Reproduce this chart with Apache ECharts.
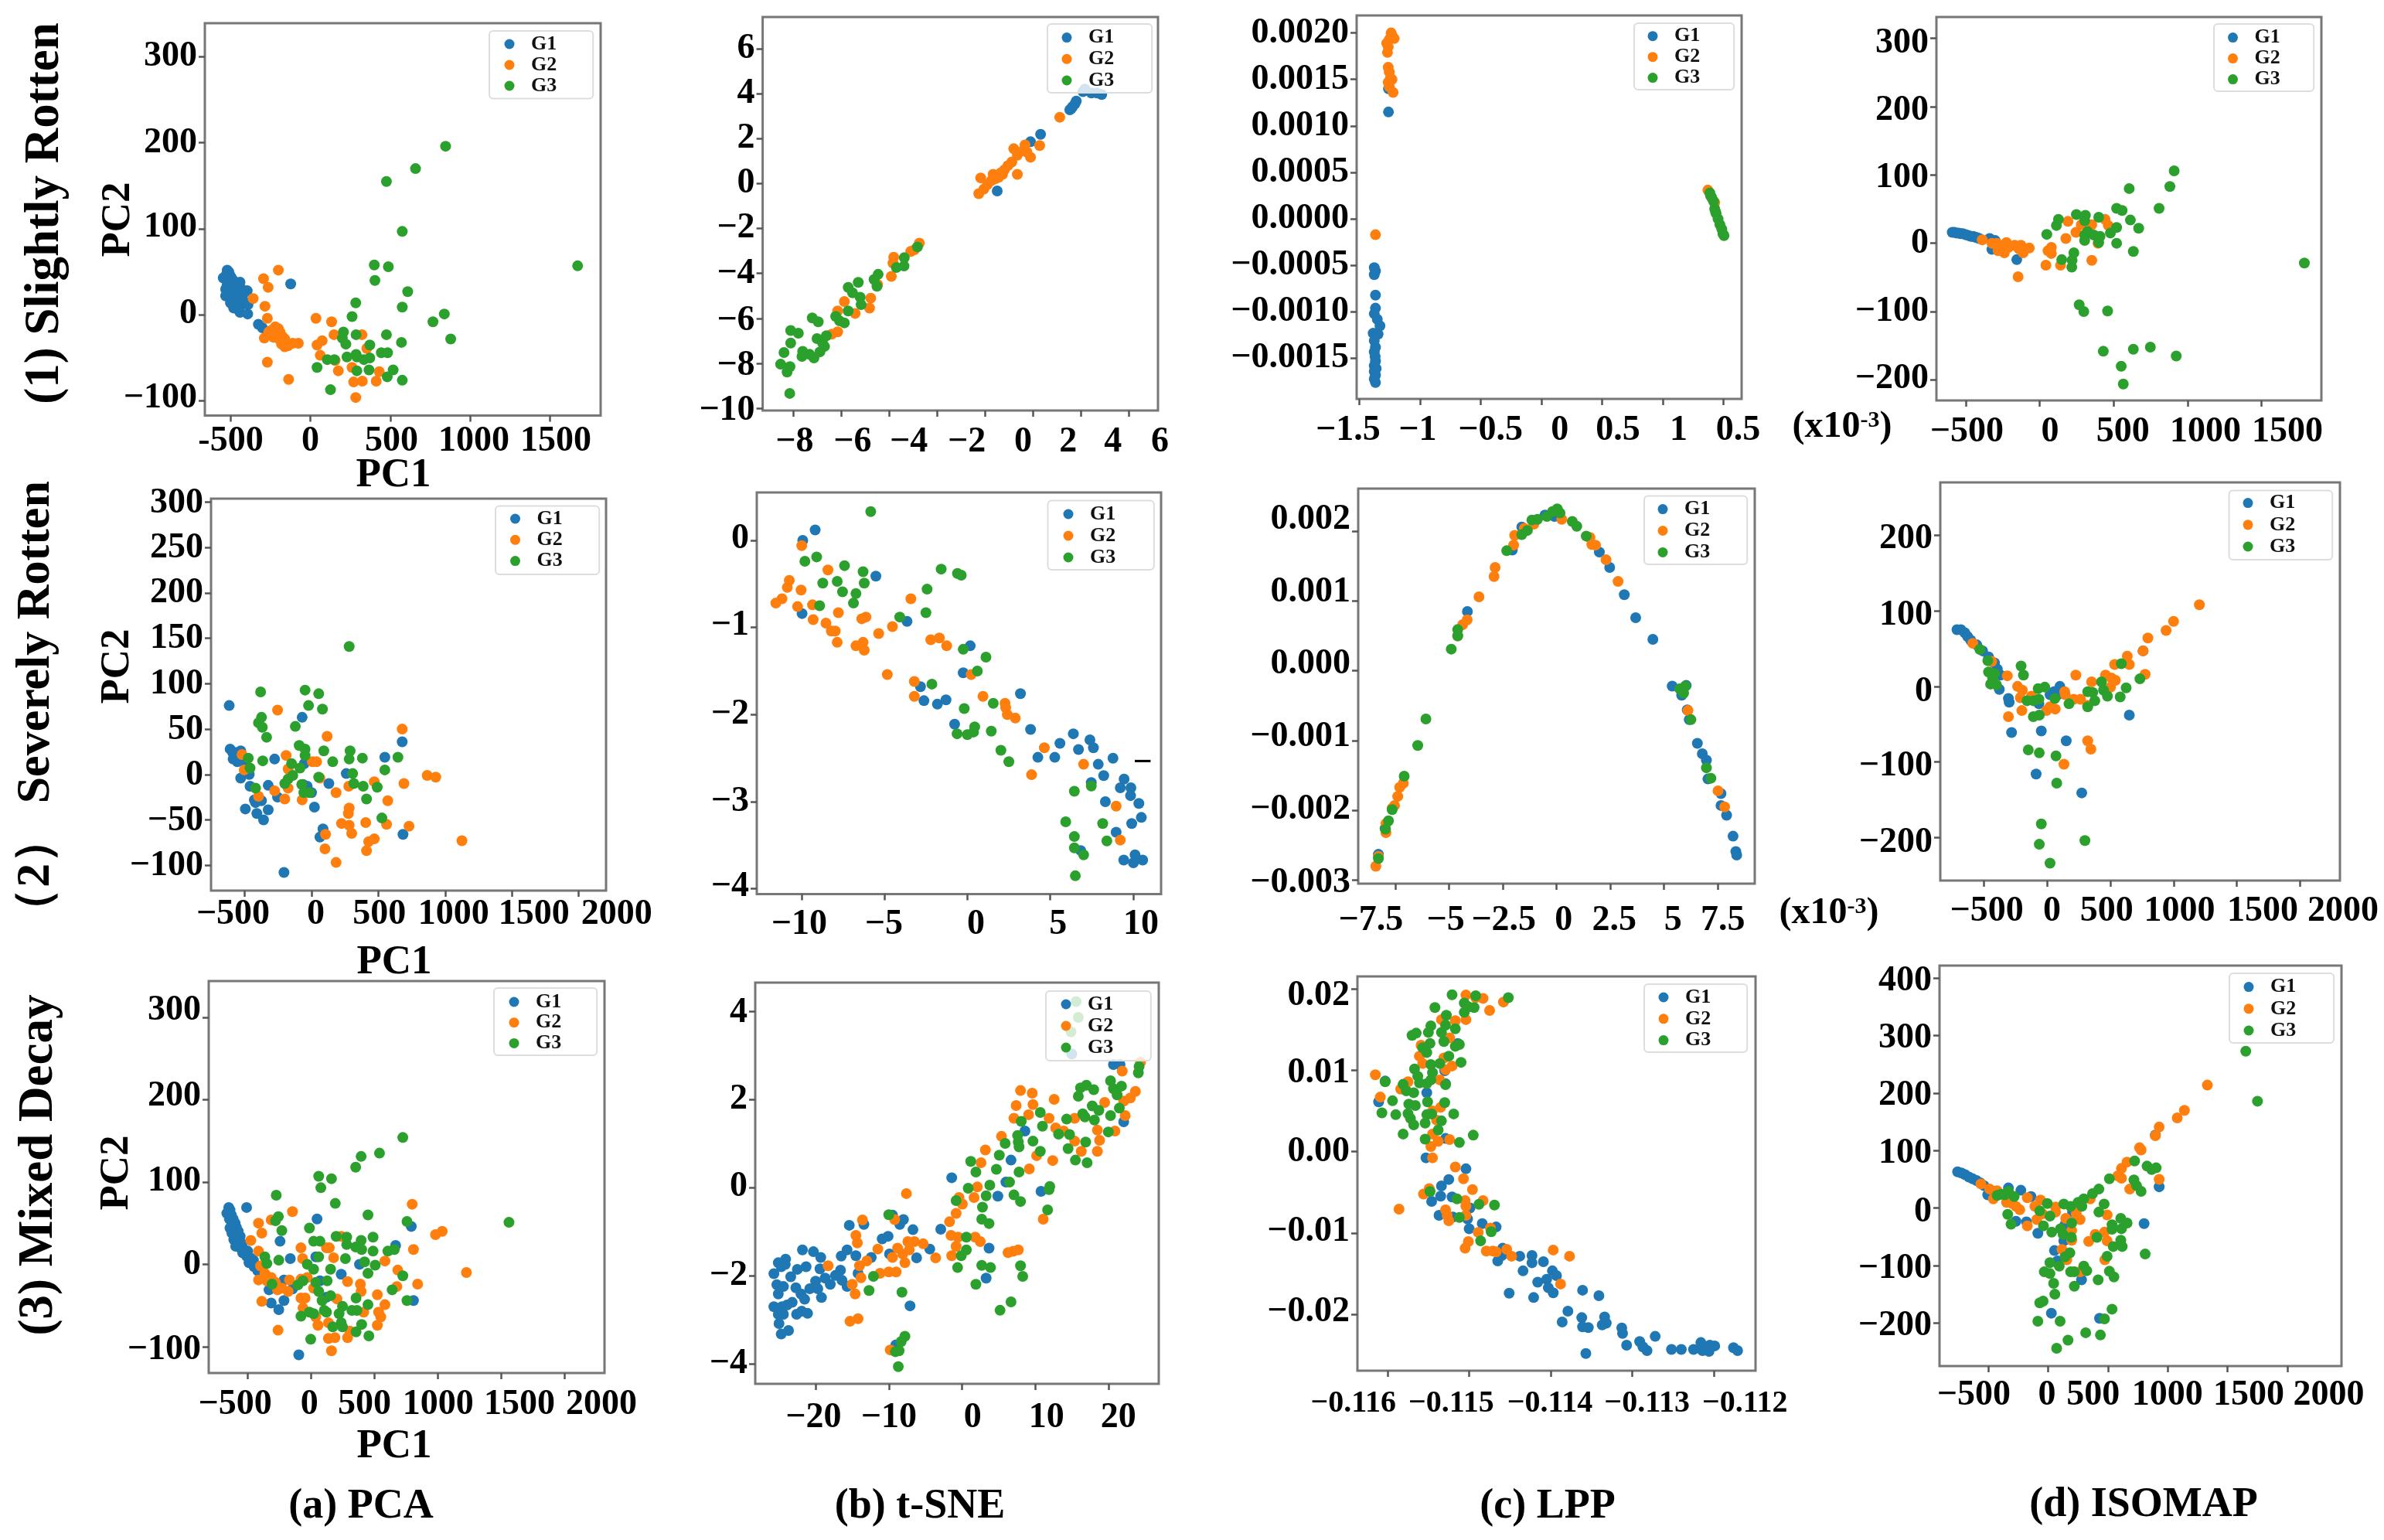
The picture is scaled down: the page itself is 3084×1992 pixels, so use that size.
<!DOCTYPE html>
<html><head><meta charset="utf-8">
<style>html,body{margin:0;padding:0;background:#fff}#c{width:3084px;height:1992px}</style>
<script src="https://cdn.jsdelivr.net/npm/echarts@6/dist/echarts.min.js"></script>
</head><body><div id="c"></div>
<script>
// ---------- DATA: Row 1 (Slightly Rotten) ----------
const a1G1=[[-520,52],[-510,50],[-525,47],[-500,45],[-545,43],[-490,42],[-510,40],[-470,38],[-440,38],[-520,35],[-480,33],[-450,32],[-530,30],[-500,30],[-470,28],[-430,30],[-395,28],[-420,24],[-530,22],[-490,22],[-460,20],[-435,18],[-410,15],[-500,14],[-470,12],[-440,10],[-390,12],[-480,8],[-450,6],[-440,3],[-392,1],[-325,-11],[-300,-15],[-123,36]];
const a1G2=[[-200,52],[-293,42],[-264,32],[-358,19],[-284,10],[-269,-4],[-288,-27],[-269,-55],[-136,-75],[-260,-20],[-245,-18],[-220,-14],[-200,-16],[-215,-22],[-190,-20],[-175,-25],[-230,-26],[-195,-28],[-160,-28],[-180,-34],[-150,-33],[-140,-36],[-110,-33],[-160,-37],[-75,-33],[35,-4],[133,-8],[148,-23],[42,-35],[74,-30],[62,-47],[155,-53],[175,-65],[261,-61],[271,-78],[325,-77],[284,-96],[412,-77],[431,-66],[353,-39],[323,-23]];
const a1G3=[[846,196],[658,170],[476,155],[575,97],[1672,57],[400,58],[488,56],[404,40],[609,27],[284,14],[575,9],[261,-2],[838,1],[767,-8],[878,-28],[207,-20],[286,-23],[476,-23],[200,-27],[222,-34],[372,-35],[570,-32],[229,-49],[286,-46],[291,-49],[444,-44],[483,-44],[372,-50],[335,-52],[106,-52],[150,-52],[42,-61],[291,-65],[367,-64],[518,-64],[481,-72],[575,-76],[126,-87]];
const b1G1=[[0.5,-0.33],[1.89,1.86],[2.31,2.19],[3.53,3.28],[3.64,3.41],[3.74,3.54],[3.8,3.67],[3.59,3.33],[4.08,4.09],[4.43,4.03],[4.86,3.96],[4.66,4.03],[4.16,4.2]];
const b1G2=[[-0.27,-0.45],[-0.19,0.25],[-0.06,-0.25],[0.09,-0.05],[0.25,0.12],[0.33,0.41],[0.41,0.21],[0.56,0.28],[0.72,0.41],[0.8,0.61],[0.95,0.8],[1.11,0.96],[1.34,0.41],[1.19,1.55],[1.34,1.26],[1.58,1.46],[1.66,1.72],[1.74,1.4],[1.89,1.17],[2.27,1.69],[3.11,2.95],[0.48,0.34],[0.64,0.47],[-2.75,-2.65],[-3.11,-3.02],[-2.96,-2.95],[-3.82,-3.28],[-3.85,-3.54],[-3.92,-4.13],[-4.49,-4.49],[-4.78,-5.1],[-4.83,-5.54],[-5.43,-5.78],[-5.88,-5.25],[-6.16,-5.67],[-6.16,-6.6],[-6.4,-6.7]];
const b1G3=[[-2.83,-2.82],[-3.38,-3.3],[-3.39,-3.67],[-3.71,-3.74],[-4.47,-4.04],[-4.64,-4.27],[-4.52,-4.57],[-5.3,-4.4],[-5.72,-4.62],[-5.54,-4.86],[-5.22,-5.06],[-5.18,-5.39],[-5.72,-5.67],[-6.24,-5.91],[-6.08,-6.11],[-5.88,-6.2],[-7.22,-5.98],[-6.97,-6.15],[-8.12,-6.54],[-7.8,-6.66],[-6.63,-6.77],[-7.02,-6.9],[-6.79,-7.1],[-6.71,-7.25],[-8.12,-7.1],[-8.4,-7.52],[-7.62,-7.47],[-7.65,-7.69],[-7.33,-7.6],[-7.15,-7.76],[-6.9,-7.49],[-8.54,-8.04],[-8.15,-8.15],[-8.27,-8.39],[-8.16,-9.34]];
const c1G1=[[-1.26,0.0014],[-1.26,0.00115],[-1.377,-0.000525],[-1.367,-0.00056],[-1.377,-0.0006],[-1.367,-0.00082],[-1.367,-0.00096],[-1.377,-0.00102],[-1.352,-0.00108],[-1.33,-0.00115],[-1.386,-0.00123],[-1.346,-0.00124],[-1.377,-0.00131],[-1.367,-0.00138],[-1.377,-0.00143],[-1.37,-0.00148],[-1.367,-0.00153],[-1.377,-0.00158],[-1.361,-0.00161],[-1.377,-0.00164],[-1.367,-0.00168],[-1.377,-0.00172],[-1.367,-0.00176]];
const c1G2=[[-1.367,-0.00017],[-1.238,0.002],[-1.213,0.00194],[-1.253,0.00193],[-1.275,0.00189],[-1.262,0.00185],[-1.268,0.00179],[-1.231,0.00197],[-1.262,0.00163],[-1.253,0.00158],[-1.244,0.00151],[-1.231,0.0015],[-1.262,0.00147],[-1.253,0.00142],[-1.222,0.00136],[1.37,0.00031],[1.426,0.000175]];
const c1G3=[[1.386,0.00028],[1.392,0.00025],[1.401,0.00023],[1.417,0.00019],[1.426,0.00011],[1.432,0.00008],[1.438,0.00006],[1.454,0],[1.469,-0.00006],[1.485,-0.00011],[1.494,-0.00016],[1.503,-0.00018]];
const d1G1=[[-591,16],[-577,16],[-563,15],[-548,15],[-534,14],[-520,14],[-506,13],[-492,12],[-478,11],[-464,10],[-450,10],[-436,9],[-422,8],[-408,7],[-338,7],[-301,4],[-323,-9],[-155,-24]];
const d1G2=[[-388,5],[-323,0],[-290,0],[-225,1],[-253,-6],[-281,-6],[-239,-14],[-169,-3],[-141,-8],[-112,-14],[-70,-7],[-127,-3],[-211,-6],[-281,-11],[-146,-49],[42,-32],[141,-32],[56,-11],[79,-6],[79,-15],[352,-25],[177,7],[191,32],[245,16],[281,27],[352,27],[442,35],[464,26],[394,0]];
const d1G3=[[909,106],[880,83],[605,80],[807,51],[520,51],[557,48],[613,34],[669,22],[520,23],[399,38],[248,42],[309,41],[304,33],[127,35],[113,26],[48,13],[324,17],[366,12],[408,10],[304,12],[304,4],[399,1],[478,15],[520,0],[633,-12],[231,-14],[219,-25],[149,-24],[217,-35],[1789,-29],[267,-90],[298,-100],[459,-99],[430,-158],[633,-155],[748,-152],[923,-165],[551,-180],[565,-206]];
// ---------- DATA: Row 2 (Severely Rotten) ----------
const a2G1=[[-616,76],[-609,28],[-590,24],[-575,20],[-555,14],[-530,26],[-508,14],[-587,17],[-568,24],[-540,15],[-466,0],[-530,-4],[-460,-13],[-324,-12],[-276,17],[-428,-28],[-374,-29],[-419,-31],[-495,-38],[-409,-43],[-324,-39],[-359,-50],[-254,-25],[-206,-108],[-70,63],[-54,12],[-63,-11],[-32,-13],[0,-20],[22,-36],[86,-60],[63,-69],[130,-10],[260,1],[549,19],[679,36],[685,-66]];
const a2G2=[[-254,71],[117,42],[679,50],[-520,22],[-504,5],[-190,21],[-175,6],[6,14],[38,14],[63,-4],[-175,-15],[-276,-18],[-397,-24],[-200,-27],[-70,-28],[184,-20],[279,-13],[470,-8],[692,-10],[866,-1],[930,-3],[571,-29],[282,-37],[276,-43],[225,-54],[282,-56],[301,-65],[406,-53],[562,-55],[730,-57],[105,-66],[101,-82],[184,-97],[412,-84],[428,-74],[470,-71],[1126,-73]];
const a2G3=[[282,141],[-381,91],[-48,93],[54,89],[-22,76],[82,72],[-374,63],[-397,57],[-368,52],[-121,53],[-336,41],[-92,32],[-48,28],[-48,21],[92,26],[289,26],[282,17],[381,18],[159,14],[647,19],[549,5],[-473,18],[-460,7],[-365,15],[-149,12],[-86,7],[-140,-1],[-175,-5],[-200,-10],[54,-3],[308,1],[317,-10],[387,-13],[492,-14],[412,-27],[-73,-11],[-57,-20],[-16,-20],[-419,-15],[527,-48]];
const b2G1=[[-9.93,0],[-9.18,0.12],[-5.52,-0.41],[-9.97,-0.84],[-3.64,-0.93],[0.17,-1.21],[-0.25,-1.52],[-2.83,-1.68],[-2.62,-1.84],[-1.81,-1.88],[-1.29,-1.83],[3.2,-1.76],[-0.77,-2.11],[3.81,-2.17],[6.39,-2.22],[5.58,-2.33],[7.39,-2.29],[7.6,-2.38],[6.7,-2.4],[4.25,-2.49],[5.27,-2.49],[8.78,-2.5],[7.89,-2.57],[8.22,-2.7],[7.47,-2.78],[9.45,-2.74],[9.22,-2.84],[9.86,-2.84],[9.84,-2.93],[8.32,-3],[10.34,-3.02],[10.49,-3.18],[9.91,-3.25],[8.97,-3.35],[6.83,-3.56],[9.43,-3.67],[10.11,-3.61],[10.01,-3.7],[10.57,-3.67]];
const b2G2=[[-9.99,-0.06],[-8.41,-0.34],[-10.74,-0.46],[-10.86,-0.54],[-10.03,-0.57],[-11.18,-0.67],[-11.55,-0.72],[-10.24,-0.76],[-9.34,-0.74],[-9.3,-0.91],[-8.53,-0.95],[-7.78,-0.83],[-8.2,-1.04],[-7.97,-1.04],[-7.85,-1.17],[-6.72,-1.21],[-6.29,-1.17],[-6.22,-1.26],[-6.37,-0.9],[-6.12,-0.88],[-5.35,-1.07],[-4.52,-0.99],[-3.41,-0.67],[-2.21,-1.14],[-1.69,-1.12],[-1.25,-1.21],[-4.83,-1.54],[-3.2,-1.62],[-3.2,-1.79],[0.23,-1.54],[0.94,-1.79],[2.27,-1.87],[2.31,-1.92],[2.41,-2],[2.89,-2.04],[4.64,-2.38],[7.01,-2.57],[3.87,-2.69],[8.97,-3.05],[9.22,-3.44]];
const b2G3=[[-5.83,0.33],[-9.09,-0.19],[-9.8,-0.24],[-7.41,-0.29],[-6.29,-0.36],[-8.72,-0.49],[-7.85,-0.47],[-6.22,-0.49],[-7.53,-0.59],[-6.72,-0.61],[-6.87,-0.72],[-8.91,-0.75],[-1.58,-0.33],[-0.6,-0.38],[-0.37,-0.4],[-2.43,-0.56],[-2.5,-0.83],[-4.08,-0.88],[-0.25,-1.25],[1.12,-1.34],[0.6,-1.5],[-2.14,-1.65],[1.56,-1.87],[-0.19,-1.93],[0.44,-2.14],[1.44,-2.19],[-0.62,-2.22],[0,-2.23],[0.37,-2.2],[2.02,-2.41],[2.5,-2.54],[6.45,-2.88],[7.47,-2.82],[5.93,-3.23],[8.16,-3.25],[6.45,-3.4],[8.41,-3.45],[6.45,-3.53],[7.01,-3.61],[6.51,-3.85]];
const c2G1=[[-8.29,-0.00263],[-7.98,-0.00226],[-4.15,0.00085],[-2.06,0.00173],[-1.62,0.00206],[-0.54,0.00223],[-0.1,0.00221],[1.99,0.0017],[2.47,0.00148],[3.15,0.00109],[3.68,0.00076],[4.48,0.00045],[5.38,-0.00022],[5.82,-0.00035],[6.03,-0.00021],[6.08,-0.00056],[6.17,-0.0007],[6.55,-0.00104],[6.78,-0.00119],[6.97,-0.00128],[7.04,-0.00155],[7.65,-0.00176],[7.65,-0.00193],[7.91,-0.00207],[8.21,-0.00237],[8.34,-0.00259],[8.38,-0.00264]];
const c2G2=[[-8.41,-0.0028],[-8.29,-0.00266],[-7.94,-0.00232],[-7.94,-0.00219],[-7.54,-0.00193],[-7.65,-0.00197],[-7.39,-0.0018],[-7.3,-0.00167],[-7.13,-0.00161],[-4.6,0.0005],[-4.37,0.00066],[-4.16,0.00073],[-3.61,0.00106],[-2.91,0.00135],[-2.86,0.00148],[-2,0.0018],[-1.95,0.00194],[-1.5,0.00204],[-1.06,0.0021],[0.24,0.00217],[1.55,0.00191],[1.64,0.00181],[1.81,0.0018],[2.3,0.00159],[2.86,0.00128],[6.11,-0.00057],[7.51,-0.00172],[7.82,-0.00195]];
const c2G3=[[-8.29,-0.00269],[-7.96,-0.00227],[-7.82,-0.00215],[-7.65,-0.00199],[-7.09,-0.00151],[-6.46,-0.00107],[-6.08,-0.00069],[-4.9,0.00031],[-4.6,0.0005],[-4.6,0.00059],[-2.32,0.00172],[-1.62,0.00195],[-1.36,0.00201],[-1.15,0.00216],[-0.89,0.00217],[-0.45,0.00221],[-0.19,0.00228],[0.03,0.00232],[0.16,0.00226],[0.73,0.00214],[0.94,0.00207],[1.38,0.00193],[5.73,-0.00026],[5.99,-0.00022],[5.91,-0.00032],[6.25,-0.0007],[6.97,-0.00139],[7.18,-0.00154]];
const d2G1=[[-714,75],[-683,75],[-652,71],[-630,66],[-605,61],[-558,55],[-511,47],[-464,39],[-417,31],[-395,23],[-370,15],[-379,-4],[-307,-16],[-301,-21],[-282,-61],[-47,-59],[-66,-23],[22,-11],[53,-7],[100,0],[85,-11],[150,-72],[-88,-116],[273,-141],[649,-38],[758,47]];
const d2G2=[[-589,57],[-439,33],[-316,14],[-235,0],[-197,-5],[-213,-15],[-201,-32],[-307,-40],[-125,-13],[-6,-32],[22,-27],[63,-30],[138,-7],[142,-11],[226,15],[210,-17],[263,-17],[351,6],[461,15],[508,11],[539,8],[501,-1],[533,29],[633,40],[649,29],[758,47],[774,16],[796,64],[940,74],[999,86],[1203,108],[320,-72],[345,-83],[132,-103],[320,-25]];
const d2G3=[[-533,49],[-470,34],[-464,19],[-417,17],[-448,3],[-401,2],[-432,11],[-207,27],[-188,15],[-160,-19],[-110,-19],[-66,-17],[-72,-3],[-19,-1],[60,-16],[172,-23],[-110,-40],[-63,-38],[320,-7],[376,-19],[360,-8],[320,-27],[429,6],[445,-5],[476,-13],[586,30],[624,-2],[577,-14],[733,10],[-150,-84],[-63,-88],[69,-92],[75,-128],[-47,-182],[-63,-209],[298,-204],[22,-234]];
// ---------- DATA: Row 3 (Mixed Decay) ----------
const a3G1=[[-650,69],[-640,66],[-665,62],[-630,60],[-615,55],[-645,55],[-600,50],[-625,48],[-590,45],[-640,44],[-610,42],[-575,40],[-625,38],[-595,35],[-560,34],[-610,30],[-580,28],[-545,25],[-595,22],[-560,20],[-530,18],[-500,16],[-540,14],[-510,10],[-480,8],[-455,5],[-490,2],[-450,-3],[-420,-8],[-400,-15],[-509,69],[47,55],[-245,28],[-164,7],[37,9],[382,0],[667,23],[791,46],[808,-44],[238,-12],[-97,-110],[-214,-19],[-147,-30],[-214,-44],[-255,-55],[-315,-47],[-332,-31],[70,-20],[121,-40]];
const a3G2=[[-147,64],[-315,54],[-415,50],[-389,38],[-476,29],[798,73],[1035,40],[982,36],[1226,-10],[808,18],[-80,20],[-67,7],[121,20],[144,20],[178,8],[238,34],[583,4],[684,-7],[841,-24],[677,-27],[-415,-19],[-365,-11],[-315,-16],[-399,-2],[-415,16],[-349,-20],[-281,-22],[-231,-29],[-181,-33],[-265,-31],[-171,-19],[-389,-45],[-261,-80],[-80,-18],[-30,-16],[20,-29],[-80,-41],[-47,-41],[-64,-53],[54,-74],[37,-64],[288,-21],[389,-24],[395,-33],[523,-37],[204,-42],[583,-49],[533,-58],[550,-64],[523,-74],[415,-58],[137,-90],[188,-89],[288,-89],[305,-81],[161,-105],[137,-71]];
const a3G3=[[724,154],[540,135],[395,131],[352,118],[60,107],[161,104],[77,93],[191,74],[449,60],[757,52],[1562,51],[-275,84],[-258,58],[-281,53],[-231,41],[-13,44],[20,28],[70,28],[198,34],[281,33],[281,24],[489,33],[395,29],[352,21],[399,18],[489,16],[606,16],[657,18],[271,7],[60,9],[-365,9],[-349,1],[-255,5],[-30,0],[20,-6],[154,-6],[422,3],[506,-1],[449,-11],[724,-14],[640,-31],[757,-44],[-308,-24],[-64,-20],[-104,-25],[37,-22],[127,-20],[60,-33],[154,-38],[87,-44],[104,-56],[355,-41],[449,-49],[248,-51],[322,-56],[362,-56],[-13,-58],[-80,-63],[20,-60],[121,-58],[221,-60],[171,-76],[238,-71],[248,-76],[399,-73],[355,-82],[456,-87],[-3,-91]];
const b3G1=[[-25.7,-1.96],[-25.1,-1.71],[-24.1,-1.63],[-24.7,-1.8],[-24.15,-1.75],[-22.5,-1.86],[-23.4,-2.03],[-21.8,-1.42],[-20.3,-1.46],[-19.3,-1.59],[-21.3,-1.8],[-19.4,-1.85],[-25.3,-2.21],[-24.4,-2.25],[-25.1,-2.42],[-22.7,-2.28],[-22,-2.42],[-21.5,-2.54],[-20.8,-2.3],[-20,-2.13],[-19.7,-2.3],[-19.2,-2.5],[-18.7,-2.06],[-18,-2.2],[-17.3,-2],[-16.6,-1.88],[-16.4,-2.11],[-15.7,-2.25],[-16.5,-1.56],[-15.7,-1.42],[-14.5,-1.55],[-15.4,-0.86],[-13.4,-0.84],[-14.2,-1.95],[-12.4,-1.59],[-10.9,-1.17],[-10.1,-1.11],[-9.9,-1.51],[-9.5,-0.63],[-8,-0.73],[-8.5,-0.84],[-6.7,-0.96],[-6.2,-1.6],[-4.4,-1.4],[-2.9,-0.95],[-1.4,0.22],[8.6,1.28],[6.7,0.62],[6,0.12],[4.9,-0.2],[10.8,-0.09],[3.7,-1.38],[3.3,-2.06],[-7.1,-2.69],[22.1,1.49],[20.7,2.79],[21.6,2.79],[15,3.03],[-25.7,-2.71],[-24.6,-2.71],[-23.9,-2.67],[-23.2,-2.61],[-25.1,-2.88],[-24.4,-2.88],[-25,-3.09],[-22.6,-2.88],[-21.9,-2.81],[-21.1,-2.86],[-24.7,-3.33],[-23.7,-3.25],[-9.06,-3.58]];
const b3G2=[[-18.3,-1.78],[-15,-2.2],[-14.6,-2.42],[-15.3,-3.04],[-14.2,-2.98],[-13.6,-0.74],[-14.5,-1.09],[-14.3,-1.26],[-14,-1.78],[-13,-1.67],[-13.8,-2.05],[-11.5,-1.4],[-11.2,-1.95],[-10,-1.92],[-9,-1.92],[-7.8,-1.71],[-9.5,-1.59],[-8.8,-1.38],[-8.1,-1.51],[-7.2,-1.42],[-7.4,-1.23],[-6.5,-1.23],[-5.3,-1.28],[-3.6,-1.6],[-9.2,-0.73],[-7.6,-0.14],[-9.8,-3.69],[-1.7,-0.78],[-0.8,-0.59],[0.05,-0.38],[-0.4,-0.23],[1.65,-0.23],[2.1,0.01],[-1.5,-1.09],[-0.55,-1.13],[-0.8,-1.34],[-1.4,-1.55],[1.8,-1.13],[2.5,-1.23],[2.6,0.56],[3.2,0.85],[5.4,1.16],[6.3,-1.48],[7,-1.45],[7.7,-1.42],[11.1,-0.72],[9.2,0.42],[10.2,0.72],[12.4,0.61],[7.1,1.57],[7.4,1.86],[8,2.2],[9.6,2.14],[9.7,1.88],[9.1,1.65],[11.9,1.57],[12.6,2],[12.8,1.35],[13.9,1.28],[15.4,1.57],[15.4,1.05],[16.3,0.82],[18.5,0.82],[18.8,1.07],[18.5,1.3],[19.5,1.93],[20.9,1.28],[22.3,1.63],[22.1,1.96],[23,2.03],[23.7,2.18],[21.9,2.64],[24.4,2.84]];
const b3G3=[[-10,-0.62],[-0.8,-0.3],[0.85,-0.02],[1.2,0.59],[1.9,0.35],[4.7,0.41],[5.1,0.73],[5.9,1],[3.8,0.05],[3.3,-0.19],[2.8,-0.45],[2.7,-0.72],[3.7,-0.82],[0.6,-1.13],[0.6,-1.42],[-0.1,-1.55],[-0.6,-1.82],[2.7,-1.77],[3.9,-1.82],[1.9,-2.2],[5.2,-2.79],[6.7,-2.6],[8.3,-2.02],[8,-1.78],[7.1,-0.17],[8,-0.32],[6.5,0.12],[7.8,0.35],[12,0.02],[11.9,-0.05],[11.7,-0.51],[7.6,1.18],[7.7,1.03],[7.8,0.92],[8.1,1.5],[9.7,1.05],[10.7,1.7],[11,1.39],[10.7,0.82],[13.2,1.21],[14.7,1.2],[14.3,1.55],[14.5,0.88],[15.5,0.62],[17.1,0.56],[16.9,1.03],[16.5,1.67],[16.8,1.6],[17.8,1.85],[18.7,1.75],[18.1,1.53],[20.3,1.63],[20,1.26],[21.5,1.8],[15.9,2.07],[16.2,2.26],[17,2.32],[18,2.22],[20.3,2.42],[20.7,2.24],[21.2,2.1],[21.8,2.3],[24.2,2.74],[24.1,2.6],[-12.7,-2.34],[-12.1,-2.02],[-8.2,-2.38],[-7.8,-3.38],[-8.3,-3.5],[-8.6,-3.71],[-9.1,-3.73],[-8.7,-4.07],[15.6,4.22],[15.9,3.86],[14.9,3.53]];
const c3G1=[[-0.11611,0.00611],[-0.11603,0.00867],[-0.11552,0.00724],[-0.11529,0.00836],[-0.1153,0.00993],[-0.11514,0.0133],[-0.11529,0.00162],[-0.11553,-0.00076],[-0.11504,-0.00211],[-0.11525,-0.00342],[-0.11534,-0.00422],[-0.11535,-0.00548],[-0.11546,-0.00611],[-0.11521,-0.00557],[-0.11499,-0.00692],[-0.11537,-0.00782],[-0.1152,-0.00804],[-0.11502,-0.00827],[-0.11484,-0.00885],[-0.11467,-0.00926],[-0.115,-0.00948],[-0.11459,-0.01187],[-0.1146,-0.01276],[-0.11465,-0.01344],[-0.11438,-0.01285],[-0.11423,-0.01276],[-0.11423,-0.01366],[-0.11434,-0.01465],[-0.11409,-0.01353],[-0.11398,-0.01465],[-0.11393,-0.01524],[-0.11416,-0.01604],[-0.11405,-0.01569],[-0.11403,-0.01672],[-0.11397,-0.01735],[-0.11421,-0.01793],[-0.11451,-0.01739],[-0.11361,-0.01703],[-0.11341,-0.01771],[-0.11379,-0.0196],[-0.11386,-0.02094],[-0.11362,-0.0204],[-0.11361,-0.02153],[-0.11354,-0.02162],[-0.11334,-0.02031],[-0.11332,-0.02108],[-0.11337,-0.0213],[-0.11313,-0.02166],[-0.11312,-0.02234],[-0.11307,-0.02378],[-0.11291,-0.02333],[-0.11287,-0.024],[-0.11282,-0.02445],[-0.11272,-0.0227],[-0.11357,-0.02481],[-0.11252,-0.02431],[-0.1124,-0.02431],[-0.11225,-0.02431],[-0.11216,-0.02346],[-0.11214,-0.02445],[-0.11206,-0.02454],[-0.11205,-0.02378],[-0.11199,-0.02387],[-0.11176,-0.02409],[-0.11171,-0.02445]];
const c3G2=[[-0.11615,0.00944],[-0.11609,0.0067],[-0.11504,0.01924],[-0.11492,0.01892],[-0.11483,0.01883],[-0.11475,0.01735],[-0.11458,0.01838],[-0.11504,0.01622],[-0.11517,0.01609],[-0.11534,0.01622],[-0.11524,0.01398],[-0.11559,0.01308],[-0.11561,0.01173],[-0.11557,0.01083],[-0.11531,0.01151],[-0.11521,0.01052],[-0.11529,0.01007],[-0.11575,0.00858],[-0.11584,0.00769],[-0.11536,0.00881],[-0.11535,0.00544],[-0.11545,0.00499],[-0.1154,0.00387],[-0.11545,0.00216],[-0.11538,0.00126],[-0.11524,0.00148],[-0.11547,0.00063],[-0.11545,-0.00076],[-0.11517,-0.00189],[-0.11507,-0.00333],[-0.11496,-0.00467],[-0.11549,-0.00454],[-0.11556,-0.00521],[-0.11586,-0.00706],[-0.11529,-0.00715],[-0.11527,-0.00782],[-0.11525,-0.00849],[-0.11505,-0.00602],[-0.11504,-0.0067],[-0.11504,-0.00782],[-0.11483,-0.00602],[-0.11489,-0.00993],[-0.11474,-0.00939],[-0.11501,-0.01106],[-0.11505,-0.01187],[-0.11479,-0.01222],[-0.11471,-0.01222],[-0.11467,-0.01231],[-0.11454,-0.012],[-0.11448,-0.01285],[-0.11397,-0.01209],[-0.11377,-0.01285],[-0.11388,-0.01627]];
const c3G3=[[-0.11452,0.01892],[-0.11492,0.01915],[-0.11521,0.01928],[-0.11506,0.01825],[-0.11501,0.0178],[-0.11494,0.01771],[-0.11542,0.01771],[-0.11528,0.01676],[-0.11506,0.01712],[-0.11517,0.0151],[-0.11529,0.01555],[-0.11547,0.01546],[-0.1157,0.01429],[-0.11565,0.01456],[-0.1155,0.01465],[-0.11534,0.01465],[-0.11531,0.01353],[-0.11548,0.0133],[-0.11517,0.01294],[-0.11512,0.01317],[-0.11557,0.01276],[-0.11552,0.01218],[-0.11525,0.01173],[-0.1151,0.01097],[-0.11536,0.01083],[-0.11547,0.0107],[-0.11567,0.01016],[-0.11545,0.00971],[-0.11563,0.00926],[-0.11547,0.00881],[-0.11529,0.00822],[-0.11561,0.00845],[-0.11581,0.00827],[-0.11603,0.00858],[-0.11577,0.00746],[-0.11568,0.00724],[-0.11552,0.00836],[-0.11594,0.00625],[-0.11574,0.00584],[-0.11566,0.00566],[-0.11551,0.00611],[-0.1153,0.00602],[-0.11607,0.00476],[-0.1159,0.00454],[-0.11575,0.00467],[-0.11572,0.00409],[-0.11552,0.00454],[-0.11546,0.00463],[-0.11519,0.00463],[-0.11568,0.00328],[-0.11554,0.00351],[-0.11534,0.00378],[-0.11538,0.00265],[-0.11581,0.00216],[-0.11554,0.00153],[-0.11495,0.00202],[-0.11512,0.00112],[-0.11548,-0.0049],[-0.11515,-0.0058],[-0.11488,-0.00647],[-0.11469,-0.00656],[-0.11512,-0.00809],[-0.11473,-0.00984],[-0.11486,-0.01097]];
const d3G1=[[-756,63],[-724,61],[-693,58],[-661,54],[-630,51],[-598,48],[-567,44],[-535,39],[-504,23],[-441,29],[-331,35],[-227,31],[-142,20],[-180,-24],[-268,-23],[-85,-44],[54,-74],[132,-57],[142,-29],[205,-7],[803,-27],[929,37],[897,127],[280,-125],[28,-183],[431,-192],[79,-92]];
const d3G2=[[-561,42],[-488,33],[-457,16],[-425,30],[-346,10],[-268,3],[-236,-3],[-299,8],[-173,18],[-173,-31],[-110,3],[-63,14],[-94,-20],[-47,-10],[63,2],[63,-7],[148,-18],[268,-20],[236,-10],[198,-39],[198,-56],[117,-72],[157,-90],[268,-111],[340,-58],[394,-46],[472,-42],[494,-57],[475,-90],[494,-12],[353,16],[583,56],[614,69],[614,52],[661,80],[683,33],[765,105],[778,101],[897,126],[929,141],[929,50],[1080,157],[1140,170],[1332,214],[236,3]];
const d3G3=[[-425,22],[-362,23],[-331,29],[-283,20],[-393,24],[-337,-11],[-309,-28],[-6,8],[-69,-5],[16,-14],[-38,-31],[31,-42],[104,-36],[126,-46],[195,-51],[198,-26],[132,7],[189,3],[252,10],[299,16],[283,3],[372,25],[425,33],[513,51],[469,7],[425,-7],[724,82],[828,73],[866,67],[904,70],[718,49],[740,39],[778,29],[608,-18],[661,-26],[535,-29],[535,-37],[614,-36],[409,-51],[608,-56],[545,-67],[620,-67],[494,-84],[812,-80],[183,-78],[142,-85],[16,-95],[94,-101],[-31,-111],[16,-114],[47,-131],[299,-101],[324,-109],[189,-111],[220,-111],[513,-110],[551,-120],[419,-125],[220,-136],[57,-150],[-41,-162],[-69,-165],[-85,-197],[101,-197],[535,-176],[472,-193],[438,-221],[315,-217],[167,-230],[72,-244],[1653,273],[1751,186]];
// ---------- AXIS TICKS AND TICK LABELS ----------
const a1XT=[-500,0,500,1000,1500], a1YT=[-100,0,100,200,300];
const a1XL=['-500','0','500','1000','1500'], a1YL=['−100','0','100','200','300'];
const b1XT=[-8,-6,-4,-2,0,2,4,6], b1YT=[-10,-8,-6,-4,-2,0,2,4,6];
const b1XL=['−8','−6','−4','−2','0','2','4','6'], b1YL=['−10','−8','−6','−4','−2','0','2','4','6'];
const c1XT=[-1.5,-1,-0.5,0,0.5,1,1.5], c1YT=[-0.0015,-0.001,-0.0005,0,0.0005,0.001,0.0015,0.002];
const c1XL=['−1.5','−1','−0.5','0','0.5','1','0.5'], c1YL=['−0.0015','−0.0010','−0.0005','0.0000','0.0005','0.0010','0.0015','0.0020'];
const d1XT=[-500,0,500,1000,1500], d1YT=[-200,-100,0,100,200,300];
const d1XL=['−500','0','500','1000','1500'], d1YL=['−200','−100','0','100','200','300'];
const a2XT=[-500,0,500,1000,1500,2000], a2YT=[-100,-50,0,50,100,150,200,250,300];
const a2XL=['−500','0','500','1000','1500','2000'], a2YL=['−100','−50','0','50','100','150','200','250','300'];
const b2XT=[-10,-5,0,5,10], b2YT=[-4,-3,-2,-1,0];
const b2XL=['−10','−5','0','5','10'], b2YL=['−4','−3','−2','−1','0'];
const c2XT=[-7.5,-5,-2.5,0,2.5,5,7.5], c2YT=[-0.003,-0.002,-0.001,0,0.001,0.002];
const c2XL=['−7.5','−5','−2.5','0','2.5','5','7.5'], c2YL=['−0.003','−0.002','−0.001','0.000','0.001','0.002'];
const d2XT=[-500,0,500,1000,1500,2000], d2YT=[-200,-100,0,100,200];
const d2XL=['−500','0','500','1000','1500','2000'], d2YL=['−200','−100','0','100','200'];
const a3XT=[-500,0,500,1000,1500,2000], a3YT=[-100,0,100,200,300];
const a3XL=['−500','0','500','1000','1500','2000'], a3YL=['−100','0','100','200','300'];
const b3XT=[-20,-10,0,10,20], b3YT=[-4,-2,0,2,4];
const b3XL=['−20','−10','0','10','20'], b3YL=['−4','−2','0','2','4'];
const c3XT=[-0.116,-0.115,-0.114,-0.113,-0.112], c3YT=[-0.02,-0.01,0,0.01,0.02];
const c3XL=['−0.116','−0.115','−0.114','−0.113','−0.112'], c3YL=['−0.02','−0.01','0.00','0.01','0.02'];
const d3XT=[-500,0,500,1000,1500,2000], d3YT=[-200,-100,0,100,200,300,400];
const d3XL=['−500','0','500','1000','1500','2000'], d3YL=['−200','−100','0','100','200','300','400'];

// ---------- LAYOUT ----------
const FONT='"Liberation Serif","Times New Roman",serif';
const COLORS=['#1f77b4','#ff7f0e','#2ca02c'];
// box:[l,t,r,b] xr/yr: axis ranges; xAt/yAt: where each tick label is centred (labels in the source sit off their ticks)
// m: x label margin; fs: x label font size; lg:[l,t,r,b,markerX,row1,row3]
const panels=[
{s:[a1G1,a1G2,a1G3],box:[265,30,777,537.5],xr:[-660,1816],yr:[-117,339],xT:a1XT,yT:a1YT,xL:a1XL,yL:a1YL,xAt:[-498,0,508,1023,1536],yAt:[-97,1,102,200,300],m:8,lg:[633,40,767,127.5,659,57,111]},
{s:[b1G1,b1G2,b1G3],box:[986.6,22,1498,531],xr:[-9.29,7.21],yr:[-10.1,7.41],xT:b1XT,yT:b1YT,xL:b1XL,yL:b1YL,xAt:[-7.96,-5.54,-3.19,-0.77,1.58,3.46,5.33,7.29],yAt:[-10.1,-8.1,-6.1,-4,-2,0,2,4,6],m:15,lg:[1355,31,1490,120,1380,48.6,104]},
{s:[c1G1,c1G2,c1G3],box:[1755,20,2253,516],xr:[-1.522,1.648],yr:[-0.001936,0.002188],xT:c1XT,yT:c1YT,xL:c1XL,yL:c1YL,xAt:[-1.593,-1.02,-0.42,0.15,0.63,1.13,1.62],yAt:[-0.0015,-0.001,-0.0005,0,0.0005,0.001,0.0015,0.002],m:15,lg:[2114,30,2243,116,2138,46.7,100.6]},
{s:[d1G1,d1G2,d1G3],box:[2505,22,3003,518],xr:[-698,1904],yr:[-230,331],xT:d1XT,yT:d1YT,xL:d1XL,yL:d1YL,xAt:[-492,70,563,1120,1674],yAt:[-199,-100,-1,96,194,292],m:15,lg:[2864,31,2993,118,2888.5,48.6,102.6]},
{s:[a2G1,a2G2,a2G3],box:[273,645,784,1152],xr:[-752,2205],yr:[-128,304],xT:a2XT,yT:a2YT,xL:a2XL,yL:a2YL,xAt:[-587,32,508,1063,1666,2285],yAt:[-101,-51,-1,49,99,150,200,249,299],m:5,lg:[641,654.5,775,743,666.5,671,725.6]},
{s:[b2G1,b2G2,b2G3],box:[979,637,1502,1156.5],xr:[-12.7,11.68],yr:[-4.06,0.55],xT:b2XT,yT:b2YT,xL:b2XL,yL:b2YL,xAt:[-10.14,-5.04,0.52,5.47,10.47],yAt:[-3.98,-3,-2,-0.98,0.02],m:14,lg:[1355.5,647.5,1492.6,737,1382,665,721]},
{s:[c2G1,c2G2,c2G3],box:[1757,632,2270,1143],xr:[-9.23,9.22],yr:[-0.00305,0.00261],xT:c2XT,yT:c2YT,xL:c2XL,yL:c2YL,xAt:[-8.64,-5.16,-2.46,0.33,2.68,5.42,7.74],yAt:[-0.00304,-0.00199,-0.00095,0.00009,0.00113,0.00217],m:22,lg:[2127,641.6,2260,730,2151,658.6,714.4]},
{s:[d2G1,d2G2,d2G3],box:[2510,624,3027,1139],xr:[-846,2315],yr:[-257,270],xT:d2XT,yT:d2YT,xL:d2XL,yL:d2YL,xAt:[-479,38,470,1046,1704,2340],yAt:[-207,-106,-7,94,195],m:14,lg:[2883.6,634.4,3017,724,2908,650.6,707]},
{s:[a3G1,a3G2,a3G3],box:[270,1269,782,1776],xr:[-808,2316],yr:[-132,344],xT:a3XT,yT:a3YT,xL:a3XL,yL:a3YL,xAt:[-600,-13,422,1002,1645,2292],yAt:[-104,-1,101,204,308],m:15,lg:[639,1278,772,1365,665,1296,1349.4]},
{s:[b3G1,b3G2,b3G3],box:[977,1271,1499,1790],xr:[-28.25,26.89],yr:[-4.46,4.65],xT:b3XT,yT:b3YT,xL:b3XL,yL:b3YL,xAt:[-20.28,-10,1.46,11.56,21.37],yAt:[-4,-2,0.01,1.99,3.96],m:18,lg:[1353,1282,1488.6,1372,1379,1299,1355]},
{s:[c3G1,c3G2,c3G3],box:[1756,1263,2271,1773],xr:[-0.11637,-0.11149],yr:[-0.02692,0.02153],xT:c3XT,yT:c3YT,xL:c3XL,yL:c3YL,xAt:[-0.11642,-0.11522,-0.11401,-0.11282,-0.11162],yAt:[-0.01973,-0.00984,-0.00009,0.00962,0.01915],m:20,fs:40,lg:[2127,1273,2260,1361,2152,1290,1345.6]},
{s:[d3G1,d3G2,d3G3],box:[2509,1249,3029,1767],xr:[-907,2453],yr:[-275,422],xT:d3XT,yT:d3YT,xL:d3XL,yL:d3YL,xAt:[-620,-9,378,998,1678,2346],yAt:[-205,-105,-7,95,196,296,395],m:12,lg:[2884,1259,3019,1349,2909,1276.6,1333]}
];
const GROUPS=['G1','G2','G3'];
const tickLine={color:'#555',width:2.5};
const grids=[],xAxes=[],yAxes=[],series=[],legends=[];
const LABEL_PAD=120; // label-only axis reaches past the frame so off-tick labels may overhang it
panels.forEach((p,i)=>{
  const [l,t,r,b]=p.box, W=r-l, H=b-t;
  const xMap=new Map(p.xAt.map((v,k)=>[v,p.xL[k]]));
  const yMap=new Map(p.yAt.map((v,k)=>[v,p.yL[k]]));
  const unit=(p.xr[1]-p.xr[0])/W;
  grids.push({left:l,top:t,width:W,height:H,show:true,borderColor:'#777',borderWidth:3,backgroundColor:'#fff',outerBoundsMode:'none',containLabel:false});
  grids.push({left:l-LABEL_PAD,top:t,width:W+2*LABEL_PAD,height:H,show:false,outerBoundsMode:'none',containLabel:false});
  const gi=grids.length-2;
  xAxes.push({gridIndex:gi,type:'value',min:p.xr[0],max:p.xr[1],axisLine:{show:false,onZero:false},
    axisTick:{show:true,customValues:p.xT,length:8,lineStyle:tickLine},axisLabel:{show:false},splitLine:{show:false}});
  xAxes.push({gridIndex:gi+1,type:'value',min:p.xr[0]-LABEL_PAD*unit,max:p.xr[1]+LABEL_PAD*unit,axisLine:{show:false,onZero:false},axisTick:{show:false},splitLine:{show:false},
    axisLabel:{show:true,customValues:p.xAt,margin:p.m+3,fontFamily:FONT,fontWeight:'bold',fontSize:p.fs||46,color:'#000',hideOverlap:false,showMinLabel:true,showMaxLabel:true,formatter:v=>xMap.get(v)??''}});
  yAxes.push({gridIndex:gi,type:'value',min:p.yr[0],max:p.yr[1],axisLine:{show:false,onZero:false},
    axisTick:{show:true,customValues:p.yT,length:8,lineStyle:tickLine},splitLine:{show:false},
    axisLabel:{show:true,customValues:p.yAt,margin:10,fontFamily:FONT,fontWeight:'bold',fontSize:46,color:'#000',hideOverlap:false,showMinLabel:true,showMaxLabel:true,formatter:v=>yMap.get(v)??''}});
  yAxes.push({gridIndex:gi+1,type:'value',min:p.yr[0],max:p.yr[1],show:false,axisLine:{onZero:false},splitLine:{show:false}});
  p.s.forEach((d,k)=>series.push({name:GROUPS[k],type:'scatter',xAxisIndex:gi,yAxisIndex:gi,data:d,symbol:'circle',symbolSize:14,itemStyle:{color:COLORS[k],opacity:1},animation:false,emphasis:{disabled:true}}));
  const [ll,lt,lr,lb,mx,r1,r3]=p.lg;
  const ICON=13,GAP=16.5,TXT=33,ROW=26,rowGap=(r3-r1)/2;
  const padL=mx-ICON/2-ll, padT=r1-ROW/2-lt, padB=lb-r3-ROW/2, padR=lr-ll-padL-ICON-5-GAP-TXT;
  legends.push({left:ll,top:lt,orient:'vertical',padding:[padT,padR,padB,padL],itemGap:rowGap-ROW,itemWidth:ICON,itemHeight:13,icon:'circle',
    data:GROUPS,selectedMode:false,backgroundColor:'rgba(255,255,255,0.8)',borderColor:'#ddd',borderWidth:2,borderRadius:5,
    textStyle:{fontFamily:FONT,fontWeight:'bold',fontSize:26,lineHeight:18,padding:[8,0,0,GAP],color:'#111'},z:10});
});
// free text: row titles, axis titles, column captions, scale note
const txt=(text,x,y,size,rot,extra)=>({type:'text',x,y,rotation:rot||0,z:20,style:Object.assign({text,fill:'#000',font:`bold ${size}px ${FONT}`,textAlign:'center',textVerticalAlign:'middle'},extra||{})});
const ROT=Math.PI/2;
const scaleNote=(x,y)=>({type:'text',x,y,z:20,style:{text:'{a|(x10}{b|-3}{a|)}',textAlign:'center',textVerticalAlign:'middle',fill:'#000',rich:{a:{font:`bold 48px ${FONT}`,fill:'#000'},b:{font:`bold 30px ${FONT}`,fill:'#000',padding:[0,0,18,0]}}}});
const graphic=[
 txt('(1) Slightly Rotten',59,276,63,ROT),
 txt('（2） Severely Rotten',47,916,62,ROT),
 txt('(3) Mixed Decay',51,1507,63,ROT),
 txt('PC2',153,284,53,ROT),txt('PC2',152.5,862,53,ROT),txt('PC2',151,1517,53,ROT),
 txt('PC1',509,615,53),txt('PC1',510,1245,53),txt('PC1',510,1871,53),
 txt('(a) PCA',467,1949,54),txt('(b) t-SNE',1190,1949,54),txt('(c) LPP',2002,1949,54),txt('(d) ISOMAP',2773,1947,54),
 txt('−',1478,988,44),
 scaleNote(2383,553),scaleNote(2366,1182)
];
const chart=echarts.init(document.getElementById('c'),null,{width:3084,height:1992,devicePixelRatio:1});
chart.setOption({animation:false,backgroundColor:'#fff',textStyle:{fontFamily:FONT},tooltip:{show:false},grid:grids,xAxis:xAxes,yAxis:yAxes,series,legend:legends,graphic});
</script></body></html>
